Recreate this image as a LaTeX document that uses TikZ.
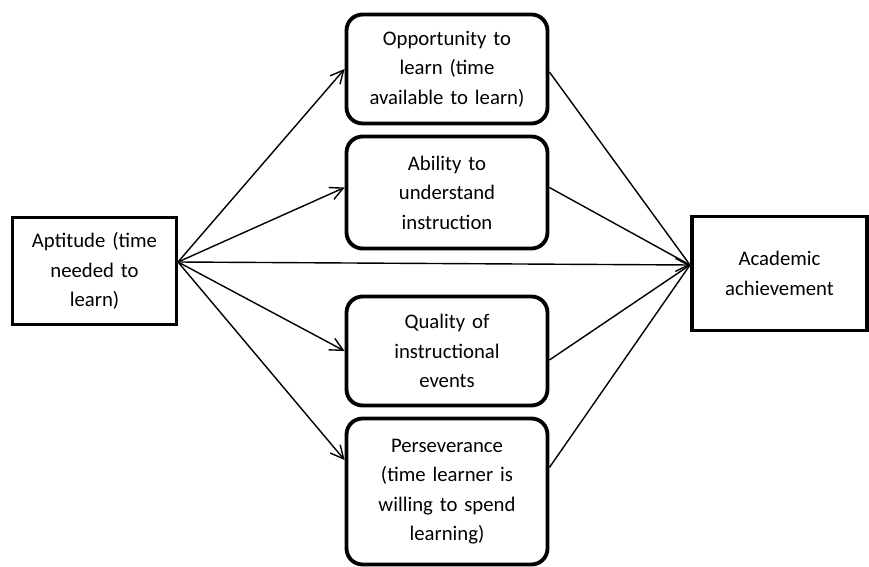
\documentclass[tikz,border=0pt]{standalone}
\usepackage{fontspec}
\setmainfont{Carlito}
\usetikzlibrary{arrows.meta}
\tikzset{
  sqbox/.style={draw, line width=2.2pt, align=center, inner sep=2pt,
    font=\fontsize{11.8}{16.8}\selectfont},
  rbox/.style={sqbox, rounded corners=0.32cm, minimum width=4.02cm, text width=3.7cm},
  link/.style={line width=0.8pt, -{Straight Barb[length=2.6mm, width=2.6mm]}},
  plain/.style={line width=0.8pt}
}
\begin{document}
\begin{tikzpicture}[x=0.02cm, y=-0.02cm]
\useasboundingbox (0,0) rectangle (869,567);
% left and right boxes
\node[sqbox, minimum width=3.28cm, minimum height=2.14cm, text width=3.1cm] (apt) at (94.5,271) {Aptitude (time\\needed to\\learn)};
\node[sqbox, minimum width=3.5cm, minimum height=2.28cm, text width=3.2cm] (ach) at (779.5,273.5) {Academic\\achievement};
% middle boxes
\node[rbox, minimum height=2.18cm] (opp) at (447,69) {Opportunity to\\learn (time\\available to learn)};
\node[rbox, minimum height=2.24cm] (abil) at (447,192.5) {Ability to\\understand\\instruction};
\node[rbox, minimum height=2.18cm] (qual) at (447,351) {Quality of\\instructional\\events};
\node[rbox, minimum height=2.92cm] (pers) at (447,491.5) {Perseverance\\(time learner is\\willing to spend\\learning)};
\coordinate (src) at (178,262);
\coordinate (dst) at (690,265);
\draw[link] (src) -- (opp.west);
\draw[link] (src) -- ([yshift=0.1cm]abil.west);
\draw[link] (src) -- (dst);
\draw[link] (src) -- (qual.west);
\draw[link] (src) -- ([yshift=0.63cm]pers.west);
\draw[plain] ([yshift=-0.06cm]opp.east) -- (dst);
\draw[plain] ([yshift=0.1cm]abil.east) -- (dst);
\draw[plain] ([yshift=-0.18cm]qual.east) -- (dst);
\draw[plain] ([yshift=0.48cm]pers.east) -- (dst);
\end{tikzpicture}
\end{document}
